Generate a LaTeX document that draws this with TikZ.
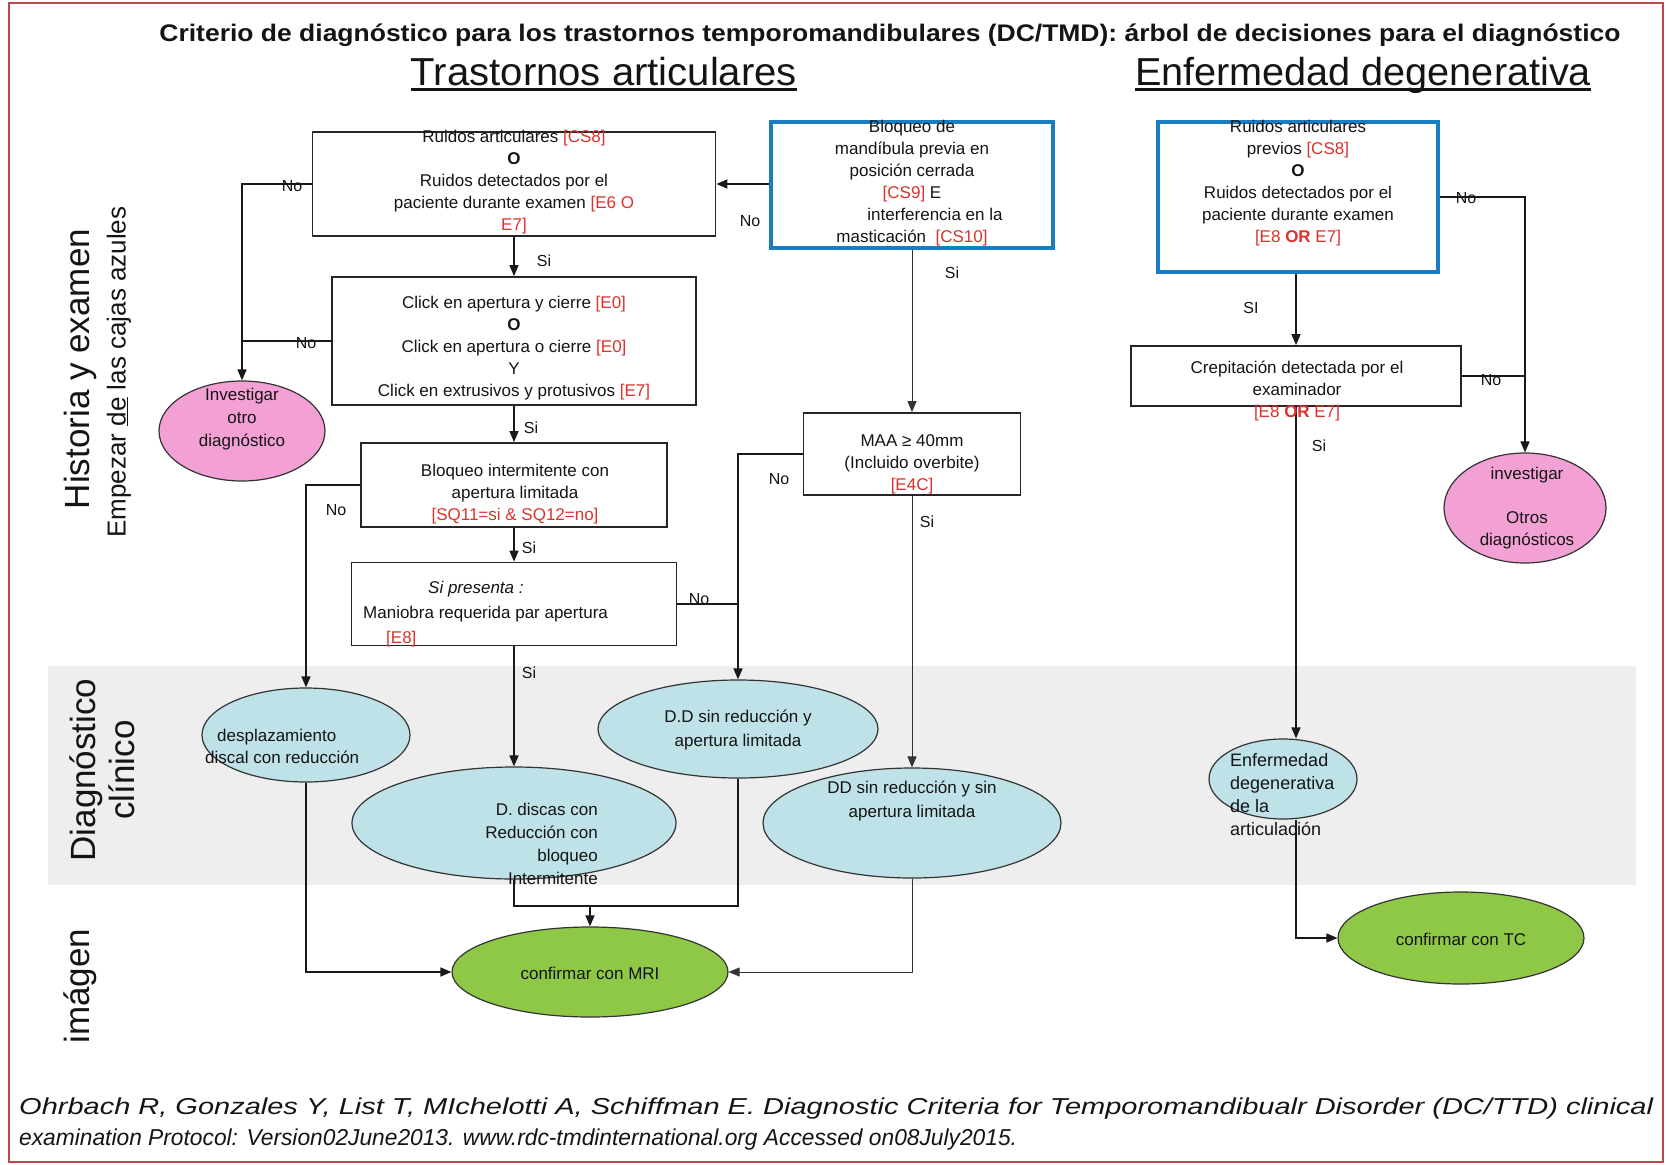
\documentclass[tikz,border=0pt]{standalone}
\usepackage{graphicx}
\usepackage{fontspec}
\setmainfont{Liberation Sans}
\usetikzlibrary{arrows.meta,shapes.geometric,calc}
\definecolor{textgray}{RGB}{20,20,20}
\definecolor{framered}{RGB}{190,70,80}
\definecolor{bandgray}{RGB}{238,238,238}
\definecolor{diagblue}{RGB}{190,226,232}
\definecolor{invpink}{RGB}{243,160,212}
\definecolor{confgreen}{RGB}{142,200,70}
\definecolor{refblue}{RGB}{25,125,195}
\definecolor{refred}{RGB}{220,50,45}
\newcommand{\rc}[1]{\textcolor{refred}{#1}}
\begin{document}
\begin{tikzpicture}[x=1pt,y=-1pt,
  box/.style={draw=black!85, line width=1.8pt, fill=white, rectangle, inner sep=0pt},
  bluebox/.style={draw=refblue, line width=4.5pt, fill=white, rectangle, inner sep=0pt},
  oval/.style={ellipse, draw=black!80, line width=1.2pt, inner sep=0pt},
  diag/.style={oval, fill=diagblue},
  inv/.style={oval, fill=invpink},
  conf/.style={oval, fill=confgreen},
  txt/.style={font=\fontsize{17}{22}\selectfont, align=center, inner sep=0pt, text=textgray},
  lbl/.style={font=\fontsize{16}{18}\selectfont, inner sep=0pt, text=textgray},
  arr/.style={line width=1.6pt, draw=black!90, -{Triangle[length=11pt,width=9pt]}},
  ln/.style={line width=1.6pt, draw=black!90},
  thinarr/.style={line width=0.9pt, draw=black!80, -{Triangle[length=11pt,width=9pt]}},
  side/.style={rotate=90, inner sep=0pt, text=textgray, align=center},
]
\useasboundingbox (0,0) rectangle (1666,1165);
\fill[white] (0,0) rectangle (1666,1165);
\fill[bandgray] (48,666) rectangle (1636,885);
\draw[framered, line width=2pt] (9,3) rectangle (1663,1162);

% headings
\node[inner sep=0pt, text=textgray, font=\bfseries\fontsize{24}{30}\selectfont] (title) at (890,35) {\resizebox{1461pt}{\height}{Criterio de diagnóstico para los trastornos temporomandibulares (DC/TMD): árbol de decisiones para el diagnóstico}};
\node[anchor=base, inner sep=0pt, text=textgray, font=\fontsize{39}{44}\selectfont] (h1) at (604,85) {\resizebox{386pt}{\height}{Trastornos articulares}};
\draw[line width=3pt, textgray] ([yshift=-4pt]h1.base west) -- ([yshift=-4pt]h1.base east);
\node[anchor=base, inner sep=0pt, text=textgray, font=\fontsize{39}{44}\selectfont] (h2) at (1363,85) {\resizebox{456pt}{\height}{Enfermedad degenerativa}};
\draw[line width=3pt, textgray] ([yshift=-4pt]h2.base west) -- ([yshift=-4pt]h2.base east);

% side labels
\node[side, font=\fontsize{35}{38}\selectfont] (lh) at (80,369) {Historia y examen};
\node[side, font=\fontsize{26}{28}\selectfont] (le) at (119,372) {Empezar \underline{de} las cajas azules};
\node[side, font=\fontsize{35}{39}\selectfont] (ld) at (102,770) {Diagnóstico\\clínico};
\node[side, font=\fontsize{35}{38}\selectfont] (li) at (80,986) {imágen};

% boxes
\node[box, minimum width=403pt, minimum height=104pt] (bA) at (514,184) {};
\node[bluebox, minimum width=282pt, minimum height=126pt] (bB) at (912,185) {};
\node[box, minimum width=364pt, minimum height=128pt] (bC) at (514,341) {};
\node[box, minimum width=306pt, minimum height=84pt] (bD) at (514,485) {};
\node[box, minimum width=325pt, minimum height=83pt] (bE) at (514,604) {};
\node[box, minimum width=217pt, minimum height=82pt] (bM) at (912,454) {};
\node[bluebox, minimum width=280pt, minimum height=150pt] (bF) at (1298,197) {};
\node[box, minimum width=330pt, minimum height=60pt] (bG) at (1296,376) {};

% ellipses
\node[inv, minimum width=166pt, minimum height=100pt] (eI1) at (242,431) {};
\node[diag, minimum width=208pt, minimum height=94pt] (eDesp) at (306,735) {};
\node[diag, minimum width=324pt, minimum height=112pt] (eD1) at (514,823) {};
\node[diag, minimum width=280pt, minimum height=98pt] (eD2) at (738,729) {};
\node[diag, minimum width=298pt, minimum height=110pt] (eD3) at (912,823) {};
\node[conf, minimum width=276pt, minimum height=90pt] (eMRI) at (590,972) {};
\node[inv, minimum width=162pt, minimum height=110pt] (eI2) at (1525,508) {};
\node[diag, minimum width=148pt, minimum height=80pt] (eEnf) at (1283,779) {};
\node[conf, minimum width=246pt, minimum height=92pt] (eTC) at (1461,938) {};

\coordinate (jm) at (590,906);

% connectors
\draw[arr] (bB.west |- bA.east) -- (bA.east);
\draw[arr] (bA.south) -- (bC.north);
\draw[arr] (bA.west) -| (eI1.north);
\draw[ln] (bC.west) -- (bC.west -| eI1.north);
\draw[arr] (bC.south) -- (bD.north);
\draw[arr] (bD.west) -| (eDesp.north);
\draw[arr] (bD.south) -- (bE.north);
\draw[arr] (bE.south) -- (eD1.north);
\draw[arr] (bM.west) -| (eD2.north);
\draw[ln] (bE.east) -- (bE.east -| eD2.north);
\draw[thinarr] (bB.south) -- (bM.north);
\draw[thinarr] (bM.south) -- (eD3.north);
\draw[arr] (eDesp.south) |- (eMRI.west);
\draw[ln] (eD1.south) |- (jm);
\draw[ln] (eD2.south) |- (jm);
\draw[arr] (jm) -- (eMRI.north);
\draw[thinarr] (eD3.south) |- (eMRI.east);
\draw[arr] (bF.east) -| (eI2.north);
\draw[ln] (bG.east) -- (bG.east -| eI2.north);
\draw[arr] (bF.south -| bG.north) -- (bG.north);
\draw[arr] (bG.south) -- (bG.south |- eEnf.north);
\draw[arr] (bG.south |- eEnf.south) |- (eTC.west);

% branch labels
\node[lbl] (nAB) at (750,221) {No};
\node[lbl] (sAC) at (544,261) {Si};
\node[lbl] (nA) at (292,186) {No};
\node[lbl] (nC) at (306,343) {No};
\node[lbl] (sCD) at (531,428) {Si};
\node[lbl] (nD) at (336,510) {No};
\node[lbl] (sDE) at (529,548) {Si};
\node[lbl] (sE) at (529,673) {Si};
\node[lbl] (nE) at (699,599) {No};
\node[lbl] (nM) at (779,479) {No};
\node[lbl] (sBM) at (952,273) {Si};
\node[lbl] (sM) at (927,522) {Si};
\node[lbl] (nF) at (1466,198) {No};
\node[lbl] (sFG) at (1251,308) {SI};
\node[lbl] (nG) at (1491,380) {No};
\node[lbl] (sG) at (1319,446) {Si};

% box texts
\node[txt] (tA) at (514,182) {Ruidos articulares \rc{[CS8]}\\\textbf{O}\\Ruidos detectados por el\\paciente durante examen \rc{[E6 O}\\\rc{E7]}};
\node[txt] (tB) at (912,183) {Bloqueo de\\mandíbula previa en\\posición cerrada\\\rc{[CS9]} E\hspace*{30pt}\\\hspace*{46pt}interferencia en la\\masticación \ \rc{[CS10]}};
\node[txt] (tC) at (514,348) {Click en apertura y cierre \rc{[E0]}\\\textbf{O}\\Click en apertura o cierre \rc{[E0]}\\Y\\Click en extrusivos y protusivos \rc{[E7]}};
\node[txt] (tD) at (515,494) {Bloqueo intermitente con\\apertura limitada\\\rc{[SQ11=si \& SQ12=no]}};
\node[txt, align=left, anchor=west, font=\fontsize{17}{25}\selectfont] (tE) at (363,614) {\hspace*{65pt}\textit{Si presenta :}\\Maniobra requerida par apertura\\\hspace*{23pt}\rc{[E8]}};
\node[txt] (tM) at (912,464) {MAA ≥ 40mm\\(Incluido overbite)\\\rc{[E4C]}};
\node[txt] (tF) at (1298,183) {Ruidos articulares\\previos \rc{[CS8]}\\\textbf{O}\\Ruidos detectados por el\\paciente durante examen\\\rc{[E8 \textbf{OR} E7]}};
\node[txt] (tG) at (1297,391) {Crepitación detectada por el\\examinador\\\rc{[E8 \textbf{OR} E7]}};

% ellipse texts
\node[txt, font=\fontsize{17}{23}\selectfont] (tI1) at (242,419) {Investigar\\otro\\diagnóstico};
\node[txt, align=left, anchor=west] (tDesp) at (205,746) {\hspace*{12pt}desplazamiento\\discal con reducción};
\node[txt, align=right, anchor=east, font=\fontsize{17}{23}\selectfont] (tD1) at (598,844) {D. discas con\\Reducción con\\bloqueo\\Intermitente};
\node[txt, font=\fontsize{17}{24}\selectfont] (tD2) at (738,730) {D.D sin reducción y\\apertura limitada};
\node[txt, font=\fontsize{17}{24}\selectfont] (tD3) at (912,801) {DD sin reducción y sin\\apertura limitada};
\node[txt] (tMRI) at (590,973) {confirmar con MRI};
\node[txt] (tI2) at (1527,508) {investigar\\[22pt]Otros\\diagnósticos};
\node[txt, align=left, anchor=west, font=\fontsize{18}{23}\selectfont] (tEnf) at (1230,795) {Enfermedad\\degenerativa\\de la\\articulación};
\node[txt] (tTC) at (1461,939) {confirmar con TC};

% footer
\node[anchor=base west, inner sep=0pt, text=textgray, font=\itshape\fontsize{23}{26}\selectfont] (f1) at (19,1114) {\resizebox{1634pt}{\height}{Ohrbach R, Gonzales Y, List T, MIchelotti A, Schiffman E. Diagnostic Criteria for Temporomandibualr Disorder (DC/TTD) clinical}};
\node[anchor=base west, inner sep=0pt, text=textgray, font=\itshape\fontsize{23}{26}\selectfont] (f2) at (19,1145) {\resizebox{998pt}{\height}{examination Protocol: Version02June2013. www.rdc-tmdinternational.org Accessed on08July2015.}};
\end{tikzpicture}
\end{document}
